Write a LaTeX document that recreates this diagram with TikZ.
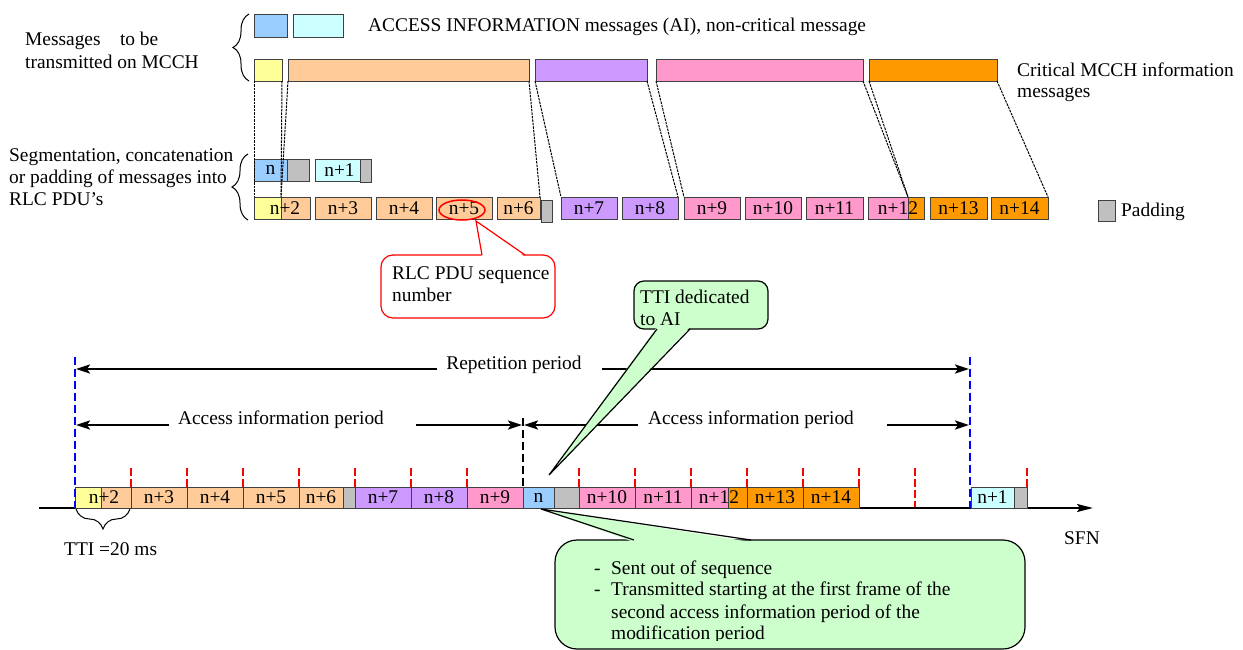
\documentclass[tikz,border=0pt]{standalone}
\usepackage{fontspec}
\setmainfont{Liberation Serif}
\usetikzlibrary{arrows.meta,decorations.pathreplacing}
\definecolor{cBlue}{HTML}{99CCFF}
\definecolor{cCyan}{HTML}{CCFFFF}
\definecolor{cYellow}{HTML}{FFFF99}
\definecolor{cPeach}{HTML}{FFCC99}
\definecolor{cPurple}{HTML}{CC99FF}
\definecolor{cPink}{HTML}{FF99CC}
\definecolor{cOrange}{HTML}{FF9900}
\definecolor{cGray}{HTML}{C0C0C0}
\definecolor{cGreen}{HTML}{CCFFCC}
\newcommand\cellbox[7]{\node[cell, fill=#6, minimum width=#4pt-#2pt, minimum height=#5pt-#3pt] (#1) at (#2,#3) {#7};}
\begin{document}
\begin{tikzpicture}[x=1pt,y=-1pt,
  font=\fontsize{19.4}{22}\selectfont,
  cell/.style={draw=black!75, line width=0.8pt, inner sep=0pt, outer sep=0pt, anchor=north west},
  txt/.style={anchor=base west, inner sep=0pt},
  lbl/.style={inner sep=0pt},
  link/.style={draw=black, line width=1pt, dash pattern=on 2.5pt off 1pt},
  arr/.style={line width=2.2pt, -{Stealth[length=14pt,width=9pt,inset=3pt]}},
  redtick/.style={draw=red, line width=1.6pt, dash pattern=on 8pt off 3pt},
  bluedash/.style={draw=blue, line width=2pt, dash pattern=on 8pt off 4pt},
  blackdash/.style={draw=black, line width=1.8pt, dash pattern=on 8pt off 4pt},
  bracestyle/.style={draw=black, line width=1pt, decorate},
  callred/.style={draw=red, line width=1.2pt},
  callgreen/.style={draw=black, line width=1.2pt}]
\useasboundingbox (0,0) rectangle (1243,650);
\fill[white] (0,0) rectangle (1243,650);

% ---------- upper part ----------
\node[txt] (msg1) at (25,46) {Messages\hspace{0.75em} to be};
\node[txt] (msg2) at (25,68.5) {transmitted on MCCH};
\draw[bracestyle, decoration={brace, amplitude=16pt}] (249,81) -- (249,14);

\cellbox{aiA}{254}{14}{287}{37}{cBlue}{}
\cellbox{aiB}{293}{14}{343}{37}{cCyan}{}
\node[txt] (aitxt) at (368,31.5) {ACCESS INFORMATION messages (AI), non-critical message};

\cellbox{mY}{254}{59}{282}{81}{cYellow}{}
\cellbox{mP}{288}{59}{529}{81}{cPeach}{}
\cellbox{mV}{535}{59}{647}{81}{cPurple}{}
\cellbox{mK}{656}{59}{863}{81}{cPink}{}
\cellbox{mO}{869}{59}{997}{81}{cOrange}{}
\node[txt] (crit1) at (1017,76.5) {Critical MCCH information};
\node[txt] (crit2) at (1017,97.5) {messages};

\node[txt] (seg1) at (9,162) {Segmentation, concatenation};
\node[txt] (seg2) at (9,184) {or padding of messages into};
\node[txt] (seg3) at (9,206) {RLC PDU’s};
\draw[bracestyle, decoration={brace, amplitude=16pt}] (248,220) -- (248,154);

\cellbox{sN}{254}{159}{287}{181}{cBlue}{n}
\cellbox{sNp}{287}{159}{309}{181}{cGray}{}
\cellbox{sN1}{315}{159}{360}{181}{cCyan}{\hspace{4pt}n+1}
\cellbox{sN1p}{360}{159}{371}{182}{cGray}{}

\cellbox{rY}{254}{197}{281}{219}{cYellow}{}
\cellbox{rP}{281}{197}{310}{219}{cPeach}{}
\node[lbl] (r2) at (285,208) {n+2};
\cellbox{r3}{315}{197}{371}{219}{cPeach}{n+3}
\cellbox{r4}{376}{197}{432}{219}{cPeach}{n+4}
\cellbox{r5}{436}{197}{492}{219}{cPeach}{n+5}
\cellbox{r6}{497}{197}{540}{219}{cPeach}{n+6}
\cellbox{r6p}{541}{200}{552}{222}{cGray}{}
\cellbox{r7}{561}{197}{617}{219}{cPurple}{n+7}
\cellbox{r8}{622}{197}{678}{219}{cPurple}{n+8}
\cellbox{r9}{684}{197}{740}{219}{cPink}{n+9}
\cellbox{r10}{745}{197}{801}{219}{cPink}{n+10}
\cellbox{r11}{806}{197}{863}{219}{cPink}{n+11}
\cellbox{r12a}{868}{197}{908}{219}{cPink}{}
\cellbox{r12b}{908}{197}{924}{219}{cOrange}{}
\node[lbl] (r12) at (898,208) {n+12};
\cellbox{r13}{930}{197}{987}{219}{cOrange}{n+13}
\cellbox{r14}{991}{197}{1048}{219}{cOrange}{n+14}

\cellbox{leg}{1098}{200}{1115}{221}{cGray}{}
\node[txt] (legtxt) at (1121,216.5) {Padding};

% dotted mapping lines
\draw[link] (mY.south west) -- (rY.north west);
\draw[link] (mY.south east) -- (rY.north east);
\draw[link] (mP.south west) -- (rP.north west);
\draw[link] (mP.south east) -- (r6.north east);
\draw[link] (mV.south west) -- (r7.north west);
\draw[link] (mV.south east) -- (r8.north east);
\draw[link] (mK.south west) -- (r9.north west);
\draw[link] (mK.south east) -- (r12a.north east);
\draw[link] (mO.south west) -- (r12b.north west);
\draw[link] (mO.south east) -- (r14.north east);

% red ellipse and callout
\draw[red, line width=1.5pt] (462,210) ellipse [x radius=23, y radius=10];
\coordinate (rlcTip) at (476,221);
\draw[callred, fill=white, rounded corners=12pt] (381,255) rectangle (555,318);
\fill[white] (482,257) -- (rlcTip) -- (525,257) -- cycle;
\draw[callred] (482,255) -- (rlcTip) -- (525,255);
\node[txt] (rlc1) at (392,279) {RLC PDU sequence};
\node[txt] (rlc2) at (392,301) {number};

% ---------- timeline ----------
\foreach \tx in {131,187,243,299,355,411,467,579,635,691,747,803,859,915,1027} {
  \draw[redtick] (\tx,468) -- (\tx,508);
}
\coordinate (axL) at (39,508);
\coordinate (axR) at (1093,508);
\draw[line width=2pt, -{Stealth[length=16pt,width=8pt,inset=3pt]}] (axL) -- (axR);

\cellbox{bY}{75}{487}{101}{508}{cYellow}{}
\cellbox{bP}{101}{487}{131}{508}{cPeach}{}
\node[lbl] (b2) at (104,497.5) {n+2};
\cellbox{b3}{131}{487}{187}{508}{cPeach}{n+3}
\cellbox{b4}{187}{487}{243}{508}{cPeach}{n+4}
\cellbox{b5}{243}{487}{299}{508}{cPeach}{n+5}
\cellbox{b6}{299}{487}{343}{508}{cPeach}{n+6}
\cellbox{b6p}{343}{487}{355}{508}{cGray}{}
\cellbox{b7}{355}{487}{411}{508}{cPurple}{n+7}
\cellbox{b8}{411}{487}{467}{508}{cPurple}{n+8}
\cellbox{b9}{467}{487}{523}{508}{cPink}{n+9}
\cellbox{bN}{523}{487}{554}{508}{cBlue}{n}
\cellbox{bNp}{554}{487}{579}{508}{cGray}{}
\cellbox{b10}{579}{487}{635}{508}{cPink}{n+10}
\cellbox{b11}{635}{487}{691}{508}{cPink}{n+11}
\cellbox{b12a}{691}{487}{728}{508}{cPink}{}
\cellbox{b12b}{728}{487}{747}{508}{cOrange}{}
\node[lbl] (b12) at (719,497.5) {n+12};
\cellbox{b13}{747}{487}{803}{508}{cOrange}{n+13}
\cellbox{b14}{803}{487}{859}{508}{cOrange}{n+14}
\cellbox{bN1}{971}{487}{1014}{508}{cCyan}{n+1}
\cellbox{bN1p}{1014}{487}{1027}{508}{cGray}{}

\draw[bluedash] (75,357) -- (75,508);
\draw[bluedash] (970,357) -- (970,508);
\draw[blackdash] (523,418) -- (523,487);

% repetition period
\node[lbl] (rep) at (514,365) {Repetition period};
\coordinate (repL) at (76,369);
\coordinate (repA) at (437,369);
\coordinate (repB) at (602,369);
\coordinate (repR) at (969,369);
\draw[arr] (repA) -- (repL);
\draw[arr] (repB) -- (repR);

% access information periods
\node[lbl] (acc1) at (281,420) {Access information period};
\coordinate (a1L) at (76,425);
\coordinate (a1A) at (169,425);
\coordinate (a1B) at (416,425);
\coordinate (a1R) at (522,425);
\draw[arr] (a1A) -- (a1L);
\draw[arr] (a1B) -- (a1R);
\node[lbl] (acc2) at (751,420) {Access information period};
\coordinate (a2L) at (524,425);
\coordinate (a2A) at (638,425);
\coordinate (a2B) at (887,425);
\coordinate (a2R) at (969,425);
\draw[arr] (a2A) -- (a2L);
\draw[arr] (a2B) -- (a2R);

% TTI brace
\draw[bracestyle, decoration={brace, amplitude=20pt}] (130,509) -- (76,509);
\node[txt] (tti) at (64,555) {TTI =20 ms};
\node[txt] (sfn) at (1064,544) {SFN};

% TTI dedicated callout
\coordinate (ttiTip) at (549,475);
\draw[callgreen, fill=cGreen, rounded corners=10pt] (634,281) rectangle (768,329);
\fill[cGreen] (657,327) -- (ttiTip) -- (690,327) -- cycle;
\draw[callgreen] (657,329) -- (ttiTip) -- (690,329);
\node[txt] (ttid1) at (640,303) {TTI dedicated};
\node[txt] (ttid2) at (640,325) {to AI};

% bottom callout
\coordinate (seqTip) at (541,509);
\draw[callgreen, fill=cGreen, rounded corners=22pt] (555,540) rectangle (1025,649);
\fill[cGreen] (634,542) -- (seqTip) -- (751,542) -- cycle;
\draw[callgreen] (634,540) -- (seqTip) -- (751,540);
\node[txt] (d1) at (594,574.5) {-};
\node[txt] (l1) at (611,574.5) {Sent out of sequence};
\node[txt] (d2) at (594,595.5) {-};
\node[txt] (l2) at (611,595.5) {Transmitted starting at the first frame of the};
\node[txt] (l3) at (611,618.5) {second access information period of the};
\begin{scope}
\clip (555,620) rectangle (1025,640);
\node[txt] (l4) at (611,639.5) {modification period};
\end{scope}
\end{tikzpicture}
\end{document}
